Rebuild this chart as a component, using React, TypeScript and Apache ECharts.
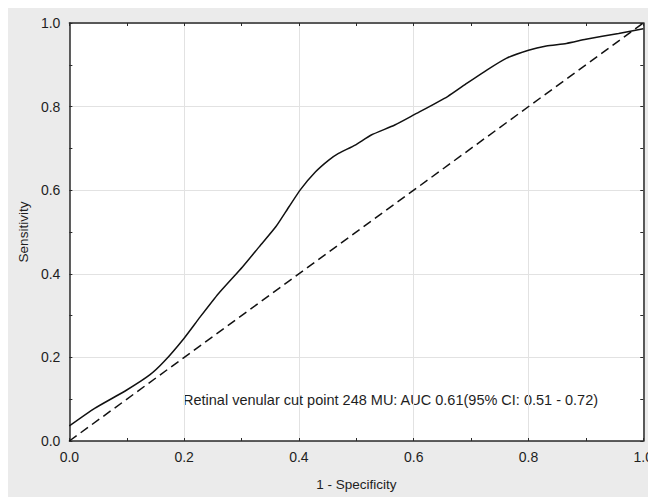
import React, { useEffect, useRef } from "react";
import * as echarts from "echarts";

const rocX = [0, 0.044, 0.1, 0.14, 0.165, 0.2, 0.228, 0.26, 0.302, 0.331, 0.36, 0.383, 0.403, 0.429, 0.452, 0.469, 0.498, 0.526, 0.567, 0.6, 0.659, 0.693, 0.728, 0.762, 0.8, 0.831, 0.866, 0.9, 0.957, 1.0];
const rocY = [0.036, 0.078, 0.122, 0.158, 0.19, 0.246, 0.297, 0.353, 0.417, 0.465, 0.513, 0.561, 0.602, 0.644, 0.672, 0.688, 0.708, 0.732, 0.756, 0.78, 0.824, 0.856, 0.888, 0.916, 0.935, 0.945, 0.951, 0.961, 0.975, 0.986];
const refX = [0, 1];
const refY = [0, 1];
const xTitle = "1 - Specificity";
const yTitle = "Sensitivity";
const note = "Retinal venular cut point 248 MU: AUC 0.61(95% CI: 0.51 - 0.72)";

const FONT = "Liberation Sans";
const TXT = "#1e1e1e";
const AX = "#2a2a2a";

export default function App() {
  const ref = useRef<HTMLDivElement>(null);
  useEffect(() => {
    if (!ref.current) return;
    const chart = echarts.init(ref.current, undefined, { renderer: "svg" });
    const axisBase = (showLabel: boolean, showGrid: boolean) => ({
      type: "value",
      min: 0,
      max: 1,
      interval: 0.2,
      axisLine: { show: true, onZero: false, lineStyle: { color: AX, width: 1.5 } },
      axisTick: { show: true, inside: true, length: 3, lineStyle: { color: AX, width: 1 } },
      minorTick: { show: true, splitNumber: 2, length: 3, lineStyle: { color: AX, width: 1 } },
      axisLabel: {
        show: showLabel,
        color: TXT,
        fontSize: 14,
        fontFamily: FONT,
        margin: 9,
        formatter: (v: number) => v.toFixed(1),
      },
      splitLine: { show: showGrid, lineStyle: { color: "#e2e2e2", width: 1 } },
    });
    chart.setOption({
      animation: false,
      backgroundColor: "#ebebeb",
      grid: { left: 60, top: 15, right: 8, bottom: 56, backgroundColor: "#ffffff", show: true, borderWidth: 0 },
      xAxis: [
        {
          ...axisBase(true, true),
          position: "bottom",
          name: xTitle,
          nameLocation: "middle",
          nameGap: 36,
          nameTextStyle: { color: TXT, fontSize: 13.5, fontFamily: FONT },
        },
        { ...axisBase(false, false), position: "top" },
      ],
      yAxis: [
        {
          ...axisBase(true, true),
          position: "left",
          name: yTitle,
          nameLocation: "middle",
          nameGap: 38,
          nameTextStyle: { color: TXT, fontSize: 13.5, fontFamily: FONT },
        },
        { ...axisBase(false, false), position: "right" },
      ],
      graphic: [
        {
          type: "text",
          x: 175,
          y: 392,
          style: {
            text: note,
            fill: TXT,
            fontSize: 14.5,
            fontFamily: FONT,
            verticalAlign: "middle",
          },
        },
      ],
      series: [
        {
          type: "line",
          data: rocX.map((x, i) => [x, rocY[i]]),
          smooth: 0.2,
          symbol: "none",
          lineStyle: { color: "#111", width: 1.5 },
        },
        {
          type: "line",
          data: refX.map((x, i) => [x, refY[i]]),
          symbol: "none",
          lineStyle: { color: "#111", width: 1.5, type: [9, 5] },
        },
      ],
    });
    return () => chart.dispose();
  }, []);
  return <div ref={ref} style={{ width: 648, height: 489 }} />;
}
